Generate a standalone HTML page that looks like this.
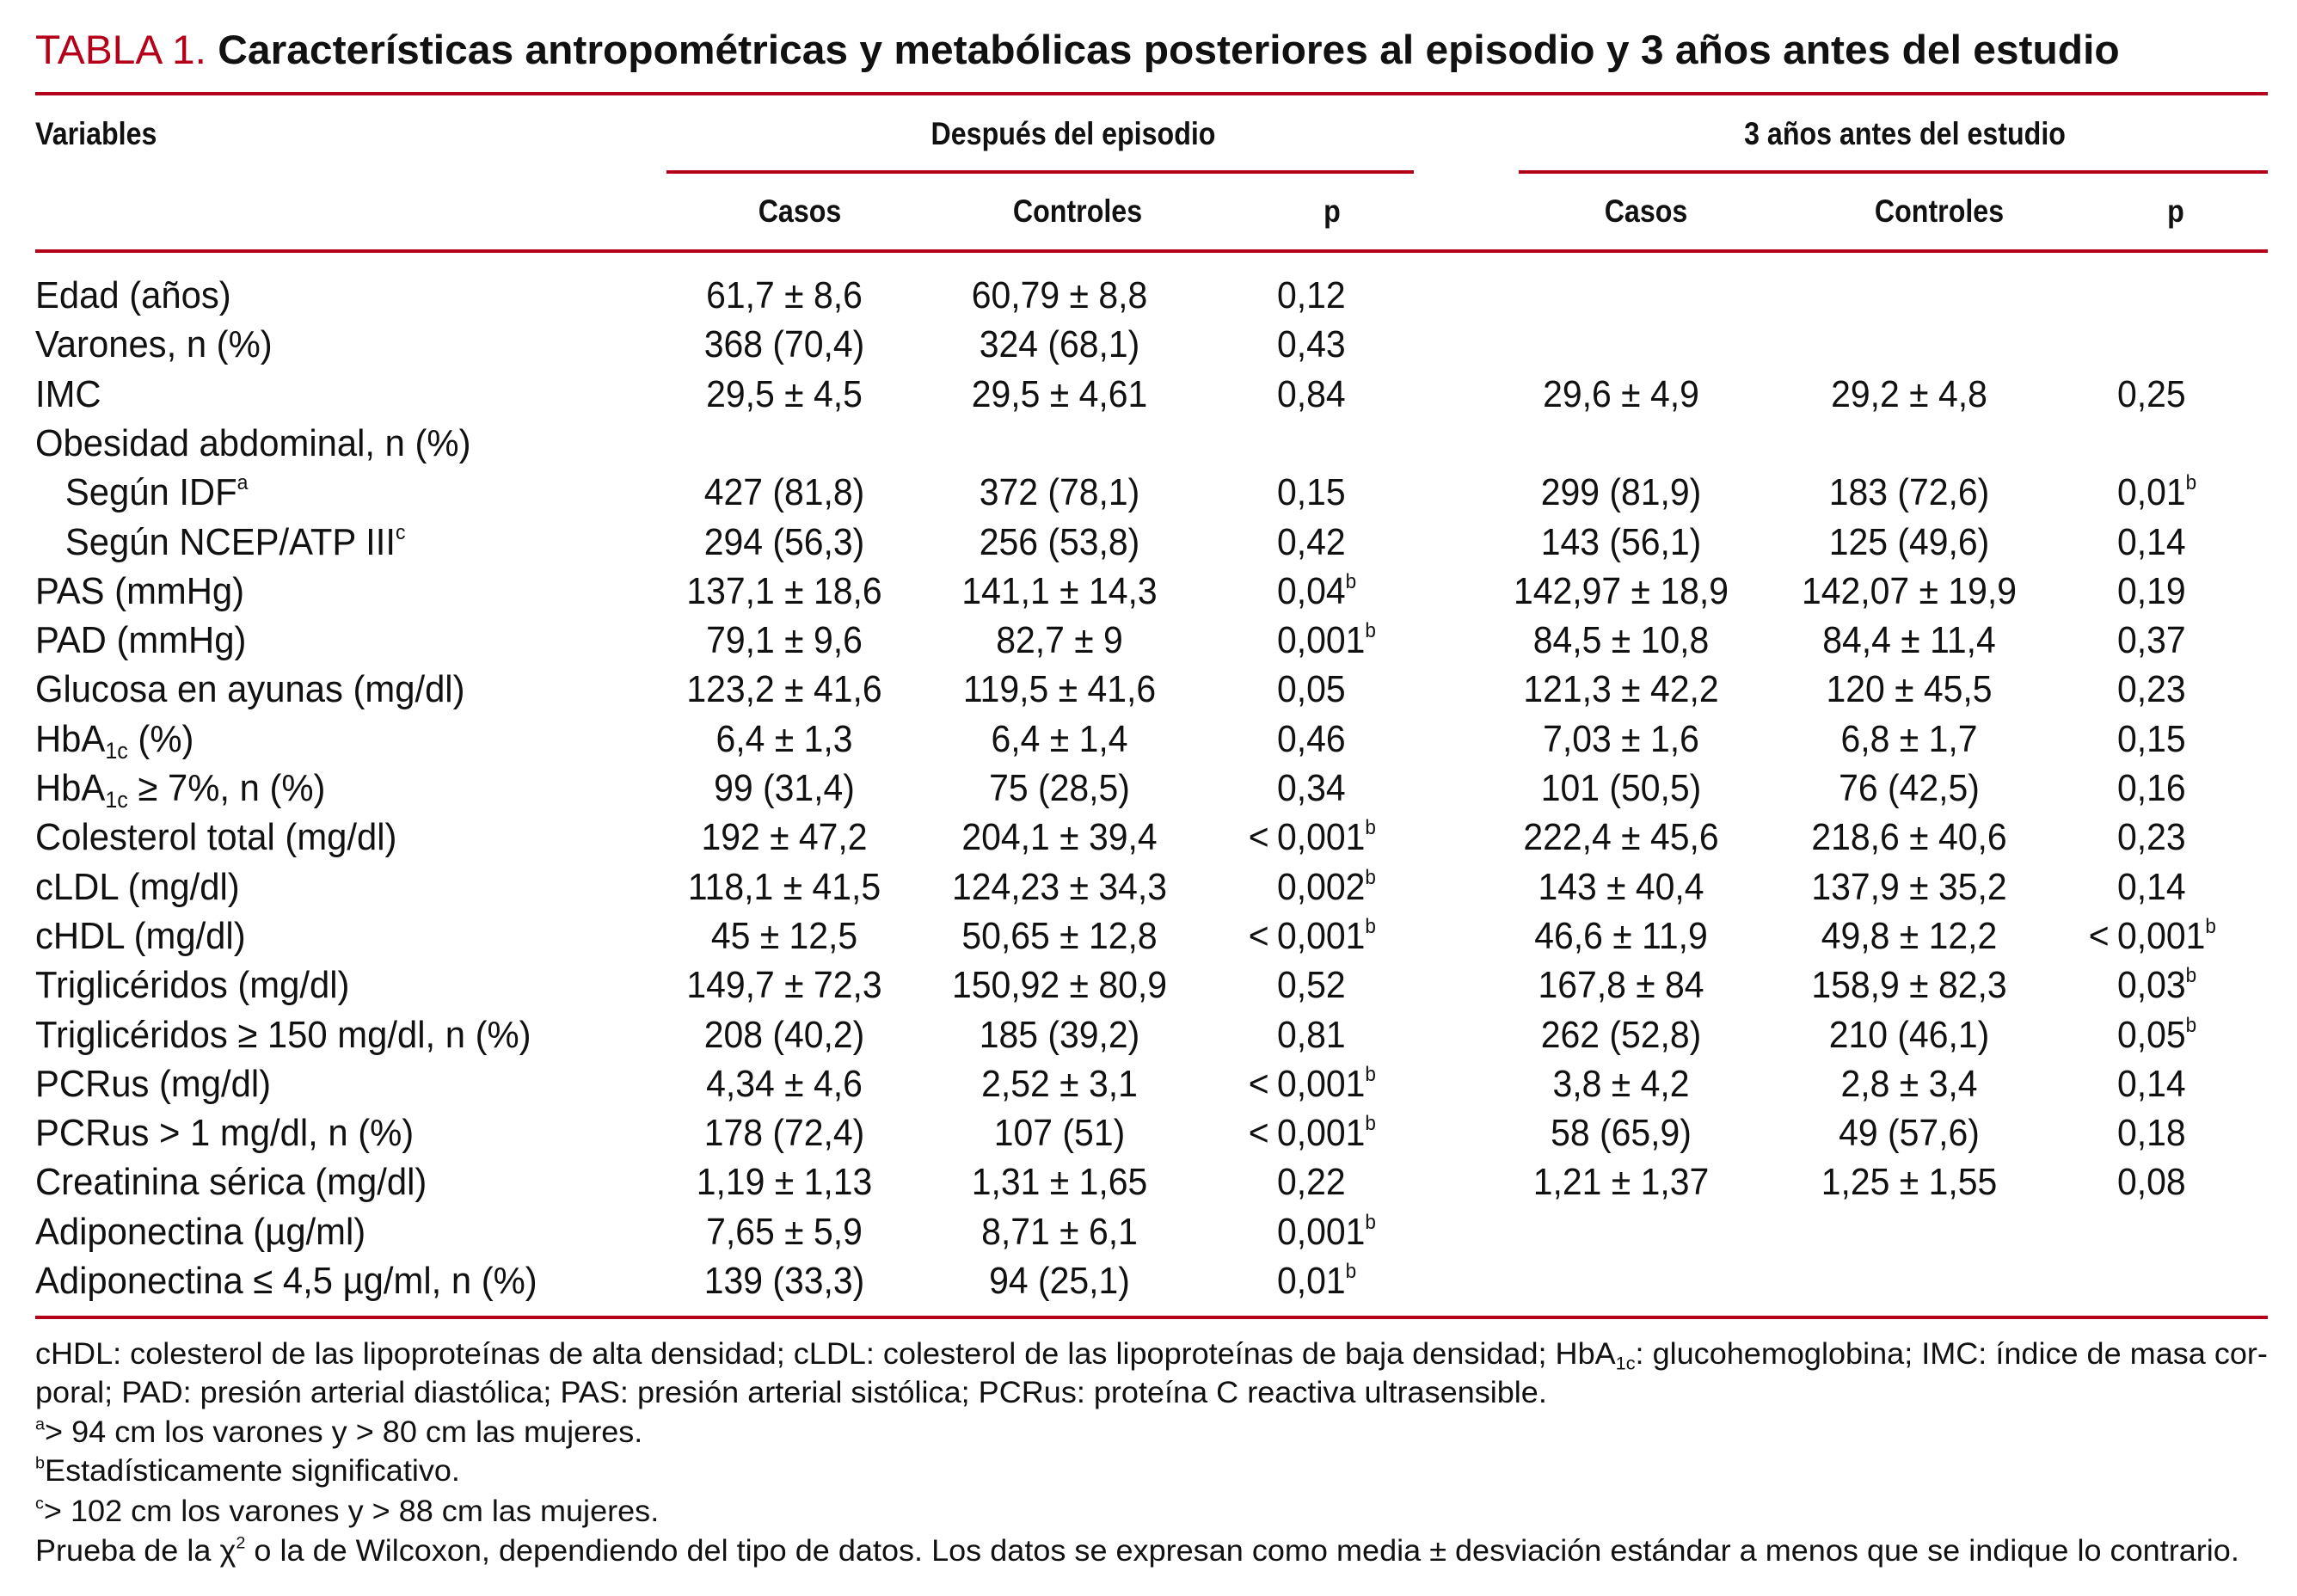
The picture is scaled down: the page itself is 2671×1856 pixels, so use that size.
<!DOCTYPE html>
<html><head><meta charset="utf-8">
<style>
html,body{margin:0;padding:0;background:#fff;}
body{width:2671px;height:1856px;position:relative;overflow:hidden;font-family:"Liberation Sans",sans-serif;color:#111;}
.abs{position:absolute;white-space:nowrap;transform-origin:0 50%;}
.rule{position:absolute;background:#b5001a;height:4px;}
.title{left:41px;top:30px;font-size:47px;line-height:56px;transform:scaleX(1.02);}
.title .red{color:#b5001a;}
.title b{font-weight:bold;}
.hd{font-size:37px;font-weight:bold;line-height:44px;}
.hd.l{transform:scaleX(0.87);}
.cell{font-size:44px;line-height:52px;}
.lab{transform:scaleX(0.95);}
.val{transform:scaleX(0.93);}
.c{transform-origin:50% 50%;}
.hd.c{transform:translateX(-50%) scaleX(0.87);}
.cell.c{transform:translateX(-50%) scaleX(0.93);}
.fn{font-size:35px;line-height:44px;left:41px;transform:scaleX(1.03);}
sup{font-size:0.55em;vertical-align:0.75em;line-height:0;}
sub{font-size:0.6em;vertical-align:-0.3em;line-height:0;}
.pre{position:absolute;right:100%;padding-right:10px;}
</style></head>
<body>
<div class="abs title"><span class="red">TABLA 1.</span> <b>Características antropométricas y metabólicas posteriores al episodio y 3 años antes del estudio</b></div>
<div class="rule" style="left:41px;width:2596px;top:107px;"></div>
<div class="abs hd l" style="left:41px;top:134px;">Variables</div>
<div class="abs hd c" style="left:1248px;top:134px;">Después del episodio</div>
<div class="abs hd c" style="left:2215px;top:134px;">3 años antes del estudio</div>
<div class="rule" style="left:775px;width:869px;top:198px;"></div>
<div class="rule" style="left:1766px;width:871px;top:198px;"></div>
<div class="abs hd c" style="left:930px;top:224px;">Casos</div>
<div class="abs hd c" style="left:1253px;top:224px;">Controles</div>
<div class="abs hd c" style="left:1549px;top:224px;">p</div>
<div class="abs hd c" style="left:1914px;top:224px;">Casos</div>
<div class="abs hd c" style="left:2255px;top:224px;">Controles</div>
<div class="abs hd c" style="left:2530px;top:224px;">p</div>
<div class="rule" style="left:41px;width:2596px;top:290px;"></div>
<div id="rows"></div>
<div class="rule" style="left:41px;width:2596px;top:1530px;"></div>
<div class="abs fn" style="top:1553px;">cHDL: colesterol de las lipoproteínas de alta densidad; cLDL: colesterol de las lipoproteínas de baja densidad; HbA<sub>1c</sub>: glucohemoglobina; IMC: índice de masa cor-</div>
<div class="abs fn" style="top:1598px;">poral; PAD: presión arterial diastólica; PAS: presión arterial sistólica; PCRus: proteína C reactiva ultrasensible.</div>
<div class="abs fn" style="top:1644px;"><sup>a</sup>&gt; 94 cm los varones y &gt; 80 cm las mujeres.</div>
<div class="abs fn" style="top:1689px;"><sup>b</sup>Estadísticamente significativo.</div>
<div class="abs fn" style="top:1736px;"><sup>c</sup>&gt; 102 cm los varones y &gt; 88 cm las mujeres.</div>
<div class="abs fn" style="top:1782px;">Prueba de la χ<sup>2</sup> o la de Wilcoxon, dependiendo del tipo de datos. Los datos se expresan como media ± desviación estándar a menos que se indique lo contrario.</div>
<script>
const labels=["Edad (años)","Varones, n (%)","IMC","Obesidad abdominal, n (%)","&nbsp;&nbsp;&nbsp;Según IDF<sup>a</sup>","&nbsp;&nbsp;&nbsp;Según NCEP/ATP III<sup>c</sup>","PAS (mmHg)","PAD (mmHg)","Glucosa en ayunas (mg/dl)","HbA<sub>1c</sub> (%)","HbA<sub>1c</sub> ≥ 7%, n (%)","Colesterol total (mg/dl)","cLDL (mg/dl)","cHDL (mg/dl)","Triglicéridos (mg/dl)","Triglicéridos ≥ 150 mg/dl, n (%)","PCRus (mg/dl)","PCRus &gt; 1 mg/dl, n (%)","Creatinina sérica (mg/dl)","Adiponectina (µg/ml)","Adiponectina ≤ 4,5 µg/ml, n (%)"];
const casos1=["61,7 ± 8,6","368 (70,4)","29,5 ± 4,5","","427 (81,8)","294 (56,3)","137,1 ± 18,6","79,1 ± 9,6","123,2 ± 41,6","6,4 ± 1,3","99 (31,4)","192 ± 47,2","118,1 ± 41,5","45 ± 12,5","149,7 ± 72,3","208 (40,2)","4,34 ± 4,6","178 (72,4)","1,19 ± 1,13","7,65 ± 5,9","139 (33,3)"];
const controles1=["60,79 ± 8,8","324 (68,1)","29,5 ± 4,61","","372 (78,1)","256 (53,8)","141,1 ± 14,3","82,7 ± 9","119,5 ± 41,6","6,4 ± 1,4","75 (28,5)","204,1 ± 39,4","124,23 ± 34,3","50,65 ± 12,8","150,92 ± 80,9","185 (39,2)","2,52 ± 3,1","107 (51)","1,31 ± 1,65","8,71 ± 6,1","94 (25,1)"];
const p1=["0,12","0,43","0,84","","0,15","0,42","0,04<sup>b</sup>","0,001<sup>b</sup>","0,05","0,46","0,34","<0,001<sup>b</sup>","0,002<sup>b</sup>","<0,001<sup>b</sup>","0,52","0,81","<0,001<sup>b</sup>","<0,001<sup>b</sup>","0,22","0,001<sup>b</sup>","0,01<sup>b</sup>"];
const casos2=["","","29,6 ± 4,9","","299 (81,9)","143 (56,1)","142,97 ± 18,9","84,5 ± 10,8","121,3 ± 42,2","7,03 ± 1,6","101 (50,5)","222,4 ± 45,6","143 ± 40,4","46,6 ± 11,9","167,8 ± 84","262 (52,8)","3,8 ± 4,2","58 (65,9)","1,21 ± 1,37","",""];
const controles2=["","","29,2 ± 4,8","","183 (72,6)","125 (49,6)","142,07 ± 19,9","84,4 ± 11,4","120 ± 45,5","6,8 ± 1,7","76 (42,5)","218,6 ± 40,6","137,9 ± 35,2","49,8 ± 12,2","158,9 ± 82,3","210 (46,1)","2,8 ± 3,4","49 (57,6)","1,25 ± 1,55","",""];
const p2=["","","0,25","","0,01<sup>b</sup>","0,14","0,19","0,37","0,23","0,15","0,16","0,23","0,14","<0,001<sup>b</sup>","0,03<sup>b</sup>","0,05<sup>b</sup>","0,14","0,18","0,08","",""];
const host=document.getElementById('rows');
const top0=318, step=57.3;
function cell(html,left,top,cls,name){
  const d=document.createElement('div');
  d.className='abs cell '+cls;
  d.style.left=left+'px';d.style.top=top+'px';
  
  
  d.innerHTML=html;host.appendChild(d);
}
function pcell(v,left,top,name){
  if(!v)return;
  let html=v;
  if(v.startsWith('<')){html='<span class="pre">&lt;</span>'+v.slice(1);}
  cell(html,left,top,'val',name);
}
labels.forEach((l,i)=>{
  const y=top0+i*step;
  cell(l,41,y,'lab','row-label-'+i);
  if(casos1[i])cell(casos1[i],912,y,'c','casos-despues-'+i);
  if(controles1[i])cell(controles1[i],1232,y,'c','controles-despues-'+i);
  pcell(p1[i],1485,y,'p-despues-'+i);
  if(casos2[i])cell(casos2[i],1885,y,'c','casos-antes-'+i);
  if(controles2[i])cell(controles2[i],2220,y,'c','controles-antes-'+i);
  pcell(p2[i],2462,y,'p-antes-'+i);
});
</script>
</body></html>
